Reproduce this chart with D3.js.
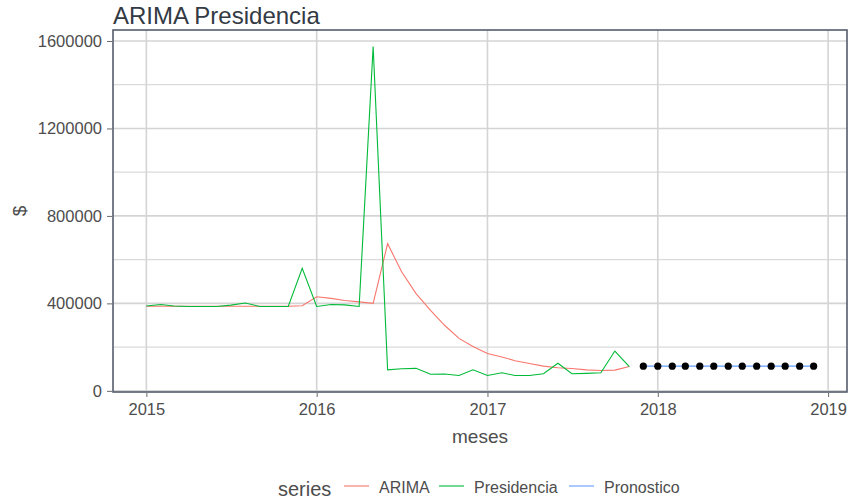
<!DOCTYPE html>
<html>
<head>
<meta charset="utf-8">
<script src="https://cdn.jsdelivr.net/npm/d3@7"></script>
<style>
  body { margin: 0; background: #fff; }
  svg { font-family: "Liberation Sans", Arial, sans-serif; }
</style>
</head>
<body>
<div id="chart"></div>
<script>
// monthly series, starting Jan 2015
var presidencia = [388000, 395000, 388000, 386000, 386000, 386000, 392000, 402000, 386000, 386000,
  386000, 560000, 386000, 395000, 393000, 386000, 1575000, 96000, 101000, 103000,
  76000, 77000, 70000, 96000, 70000, 83000, 70000, 70000, 78000, 126000,
  78000, 80000, 83000, 182000, 111000];
var arima = [387000, 387000, 387000, 387000, 387000, 387000, 387000, 387000, 387000, 387000,
  387000, 389000, 430000, 423000, 413000, 407000, 400000, 673000, 545000, 445000,
  368000, 300000, 240000, 203000, 171000, 155000, 138000, 125000, 113000, 106000,
  102000, 96000, 93000, 95000, 111000];
var pronostico = [113000, 113000, 113000, 113000, 113000, 113000, 113000, 113000, 113000,
  113000, 113000, 113000, 113000];
var pronosticoStart = new Date(2017, 11, 1);
var yearTicks = [2015, 2016, 2017, 2018, 2019];
var yMajor = [0, 400000, 800000, 1200000, 1600000];
var yMinor = [200000, 600000, 1000000, 1400000];
var seriesNames = ["ARIMA", "Presidencia", "Pronostico"];
var seriesColors = ["#F8766D", "#00BA38", "#619CFF"];

(function(){
  'use strict';
  var W = 849, H = 500;
  var left = 113, right = 847, top = 30, bottom = 392;
  var textCol = "#4d4d4d";

  function monthSeries(vals, start){
    return vals.map(function(v, i){
      return {date: new Date(start.getFullYear(), start.getMonth() + i, 1), value: v};
    });
  }
  var pres = monthSeries(presidencia, new Date(2015, 0, 1));
  var ar = monthSeries(arima, new Date(2015, 0, 1));
  var pron = monthSeries(pronostico, pronosticoStart);
  var all = pres.concat(ar, pron);

  var xExt = d3.extent(all, function(d){ return d.date; });
  var xPad = (xExt[1] - xExt[0]) * 0.05;
  var x = d3.scaleTime()
    .domain([new Date(+xExt[0] - xPad), new Date(+xExt[1] + xPad)])
    .range([left, right]);
  var yExt = d3.extent(all, function(d){ return d.value; });
  var yPad = (yExt[1] - yExt[0]) * 0.05;
  var y = d3.scaleLinear()
    .domain([yExt[0] - yPad, yExt[1] + yPad])
    .range([bottom, top]);

  var svg = d3.select("#chart").append("svg")
    .attr("width", W).attr("height", H);

  // grid
  var grid = svg.append("g");
  grid.selectAll(".ymin").data(yMinor).enter().append("line")
    .attr("x1", left).attr("x2", right)
    .attr("y1", function(d){ return y(d); }).attr("y2", function(d){ return y(d); })
    .attr("stroke", "#dadada").attr("stroke-width", 1.3);
  grid.selectAll(".ymaj").data(yMajor).enter().append("line")
    .attr("x1", left).attr("x2", right)
    .attr("y1", function(d){ return y(d); }).attr("y2", function(d){ return y(d); })
    .attr("stroke", "#d4d4d4").attr("stroke-width", 1.6);
  grid.selectAll(".xmaj").data(yearTicks).enter().append("line")
    .attr("y1", top).attr("y2", bottom)
    .attr("x1", function(d){ return x(new Date(d, 0, 1)); })
    .attr("x2", function(d){ return x(new Date(d, 0, 1)); })
    .attr("stroke", "#d4d4d4").attr("stroke-width", 1.6);

  // series lines
  var line = d3.line()
    .x(function(d){ return x(d.date); })
    .y(function(d){ return y(d.value); });
  svg.append("path").datum(ar).attr("d", line)
    .attr("fill", "none").attr("stroke", seriesColors[0]).attr("stroke-width", 1.1);
  svg.append("path").datum(pres).attr("d", line)
    .attr("fill", "none").attr("stroke", seriesColors[1]).attr("stroke-width", 1.1);
  svg.append("path").datum(pron).attr("d", line)
    .attr("fill", "none").attr("stroke", seriesColors[2]).attr("stroke-width", 1.1);
  svg.selectAll("circle.pt").data(pron).enter().append("circle")
    .attr("class", "pt")
    .attr("cx", function(d){ return x(d.date); })
    .attr("cy", function(d){ return y(d.value); })
    .attr("r", 3.6).attr("fill", "#000");

  // panel border
  svg.append("rect")
    .attr("x", left).attr("y", top)
    .attr("width", right - left).attr("height", bottom - top)
    .attr("fill", "none").attr("stroke", "#555d6b").attr("stroke-width", 1.6);

  // axes
  var yAxis = d3.axisLeft(y).tickValues(yMajor).tickFormat(d3.format("d"))
    .tickSize(5).tickPadding(5);
  var gy = svg.append("g").attr("transform", "translate(" + (left - 1) + ",0)").call(yAxis);
  var xAxis = d3.axisBottom(x)
    .tickValues(yearTicks.map(function(d){ return new Date(d, 0, 1); }))
    .tickFormat(d3.timeFormat("%Y")).tickSize(4).tickPadding(6);
  var gx = svg.append("g").attr("transform", "translate(0," + (bottom + 1) + ")").call(xAxis);
  [gx, gy].forEach(function(g){
    g.select(".domain").remove();
    g.selectAll(".tick line").attr("stroke", "#6b6b6b");
    g.selectAll(".tick text").attr("fill", textCol).style("font-size", "16.5px")
      .style("font-family", "'Liberation Sans', Arial, sans-serif");
  });

  // titles
  svg.append("text").attr("x", left).attr("y", 24)
    .attr("fill", "#333a44").style("font-size", "24px")
    .text("ARIMA Presidencia");
  svg.append("text").attr("x", (left + right) / 2).attr("y", 443)
    .attr("text-anchor", "middle").attr("fill", textCol).style("font-size", "19px")
    .text("meses");
  svg.append("text").attr("transform", "translate(26," + ((top + bottom) / 2) + ") rotate(-90)")
    .attr("text-anchor", "middle").attr("fill", textCol).style("font-size", "19px")
    .text("$");

  // legend
  var lg = svg.append("g").attr("transform", "translate(278,0)");
  lg.append("text").attr("x", 0).attr("y", 496).attr("fill", textCol)
    .style("font-size", "20px").text("series");
  var keyX = [66, 161, 291];
  seriesNames.forEach(function(name, i){
    lg.append("line").attr("x1", keyX[i]).attr("x2", keyX[i] + 25)
      .attr("y1", 486).attr("y2", 486)
      .attr("stroke", seriesColors[i]).attr("stroke-width", 1.1);
    lg.append("text").attr("x", keyX[i] + 35).attr("y", 493).attr("fill", textCol)
      .style("font-size", "16px").text(name);
  });
}());
</script>
</body>
</html>
